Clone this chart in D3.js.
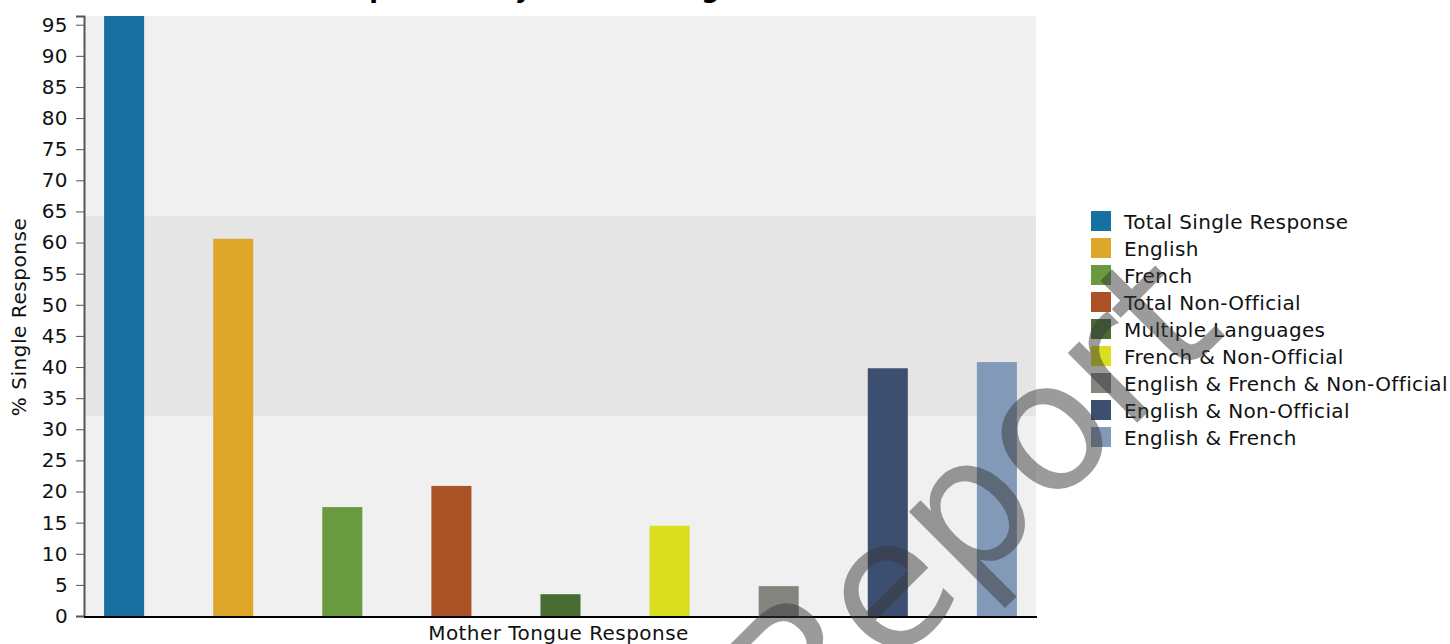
<!DOCTYPE html>
<html>
<head>
<meta charset="utf-8">
<script src="https://cdn.jsdelivr.net/npm/d3@7"></script>
<style>
  html, body { margin: 0; padding: 0; background: #fff; overflow: hidden; }
  svg { display: block; font-family: Verdana, "DejaVu Sans", sans-serif; }
</style>
</head>
<body>
<svg id="chart" width="1450" height="644"></svg>
<script>
// ---- data ----
const categories = [
  "Total Single Response", "English", "French", "Total Non-Official",
  "Multiple Languages", "French & Non-Official",
  "English & French & Non-Official", "English & Non-Official", "English & French"
];
const values = [96.4, 60.6, 17.5, 20.9, 3.5, 14.5, 4.8, 39.8, 40.8];
const colors = [
  "#1770a0", "#dfa72a", "#6a9a3f", "#ab5227", "#486c33",
  "#d9df1f", "#858580", "#3c4f70", "#8299b8"
];
const yTickValues = [0, 5, 10, 15, 20, 25, 30, 35, 40, 45, 50, 55, 60, 65, 70, 75, 80, 85, 90, 95];
const title = "Population by Mother Tongue";
const xTitle = "Mother Tongue Response";
const yTitle = "% Single Response";
const watermark = "Report";

// ---- layout ----
const svg = d3.select("#chart");
const plot = { left: 85, right: 1036, top: 16, bottom: 616 };

const x = d3.scaleBand()
  .domain(categories)
  .range([plot.left, plot.right])
  .paddingInner(0.633)
  .paddingOuter(0.175);

const y = d3.scaleLinear()
  .domain([0, d3.max(values)])
  .range([plot.bottom, plot.top]);

// background bands (thirds of the value domain)
const yMax = d3.max(values);
const bands = [
  { from: 0, to: yMax / 3, fill: "#f0f0f0" },
  { from: yMax / 3, to: 2 * yMax / 3, fill: "#e5e5e5" },
  { from: 2 * yMax / 3, to: yMax, fill: "#f0f0f0" }
];
svg.append("g").selectAll("rect").data(bands).join("rect")
  .attr("x", plot.left)
  .attr("width", plot.right - plot.left)
  .attr("y", d => y(d.to))
  .attr("height", d => y(d.from) - y(d.to))
  .attr("fill", d => d.fill);

// bars
svg.append("g").selectAll("rect").data(categories).join("rect")
  .attr("x", d => x(d))
  .attr("width", x.bandwidth())
  .attr("y", (d, i) => y(values[i]))
  .attr("height", (d, i) => y(0) - y(values[i]))
  .attr("fill", (d, i) => colors[i]);

// y axis
const yAxis = svg.append("g")
  .attr("transform", `translate(${plot.left - 1},0)`)
  .call(d3.axisLeft(y).tickValues(yTickValues).tickSize(8).tickPadding(8).tickFormat(d3.format("d")));
yAxis.select(".domain").attr("stroke", "#555").attr("stroke-width", 2);
yAxis.selectAll(".tick line").attr("stroke", "#555");
yAxis.selectAll(".tick text")
  .attr("font-size", 20)
  .attr("font-family", "Verdana, 'DejaVu Sans', sans-serif")
  .attr("letter-spacing", 0.4)
  .attr("fill", "#111");

// x axis
const xAxis = svg.append("g")
  .attr("transform", `translate(0,${plot.bottom + 1})`)
  .call(d3.axisBottom(x).tickSize(0).tickFormat(""));
xAxis.select(".domain").attr("stroke", "#000").attr("stroke-width", 2)
  .attr("d", `M${plot.left - 1},0H${plot.right + 1}`);

// axis titles
svg.append("text")
  .attr("x", (plot.left + plot.right) / 2 - 2)
  .attr("y", 640)
  .attr("text-anchor", "middle")
  .attr("font-size", 20)
  .attr("letter-spacing", 0.45)
  .attr("fill", "#111")
  .text(xTitle);

svg.append("text")
  .attr("transform", `translate(26,${(plot.top + plot.bottom) / 2 + 1}) rotate(-90)`)
  .attr("text-anchor", "middle")
  .attr("font-size", 20)
  .attr("letter-spacing", 0.55)
  .attr("fill", "#111")
  .text(yTitle);

// title (mostly cut off at the top, as in the reference)
svg.append("text")
  .attr("x", 544)
  .attr("y", -2)
  .attr("text-anchor", "middle")
  .attr("font-size", 25.4)
  .attr("font-weight", "bold")
  .attr("fill", "#000")
  .text(title);

// legend
const legend = svg.append("g").attr("transform", "translate(1091,211)");
const rows = legend.selectAll("g").data(categories).join("g")
  .attr("transform", (d, i) => `translate(0,${i * 27})`);
rows.append("rect")
  .attr("width", 20).attr("height", 20)
  .attr("fill", (d, i) => colors[i]);
rows.append("text")
  .attr("x", 33)
  .attr("y", 18)
  .attr("font-size", 20)
  .attr("letter-spacing", 0.36)
  .attr("fill", "#111")
  .text(d => d);

// watermark
svg.append("text")
  .attr("transform", "translate(806,754) rotate(-45)")
  .attr("font-size", 180)
  .attr("font-family", "Verdana, 'DejaVu Sans', sans-serif")
  .attr("fill", "#383838")
  .attr("fill-opacity", 0.5)
  .text(watermark);
</script>
</body>
</html>
